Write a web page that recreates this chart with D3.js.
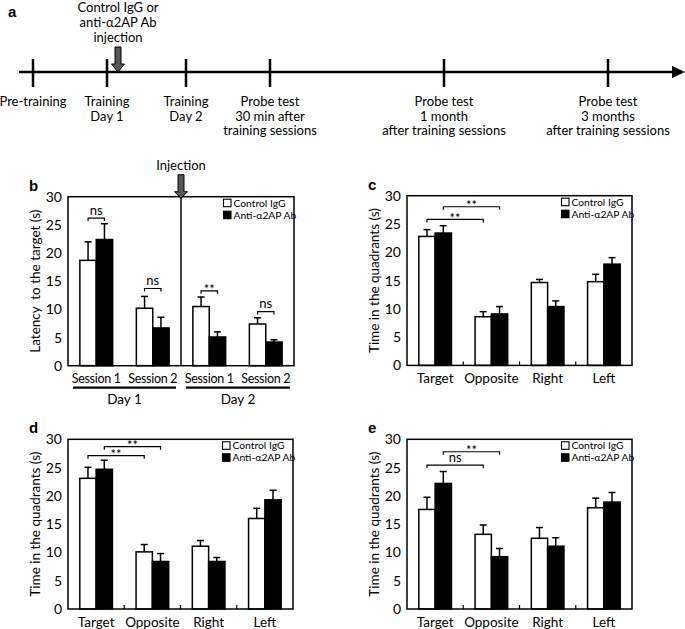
<!DOCTYPE html>
<html><head><meta charset="utf-8">
<script src="https://cdn.jsdelivr.net/npm/d3@7"></script>
<style>
body{margin:0;background:#fff}
svg{display:block}
text{font-family:Lato,"Open Sans",sans-serif;fill:#000}
</style>
</head><body>
<svg id="chart" width="685" height="629"></svg>
<script>
// ---------- data ----------
const timelineLabels = [["Pre-training"],["Training","Day 1"],["Training","Day 2"],
  ["Probe test","30 min after","training sessions"],
  ["Probe test","1 month","after training sessions"],
  ["Probe test","3 months","after training sessions"]];
const injectionLabel = ["Control IgG or","anti-α2AP Ab","injection"];
const seriesNames = ["Control IgG","Anti-α2AP Ab"];
const yTicks = [0,5,10,15,20,25,30];

const categoriesB = ["Session 1","Session 2","Session 1","Session 2"];
const daysB = ["Day 1","Day 2"];
const controlB = [18.7,10.2,10.5,7.4];
const controlErrB = [3.3,2.1,1.7,1.1];
const antiB = [22.4,6.7,5.1,4.2];
const antiErrB = [2.8,1.9,0.9,0.4];
const sigB = ["ns","ns","**","ns"];
const sigLevelB = [26.2,13.7,13.3,9.6];

const quadrants = ["Target","Opposite","Right","Left"];
const controlC = [22.8,8.6,14.65,14.8];
const controlErrC = [1.2,0.9,0.55,1.3];
const antiC = [23.4,9.1,10.4,17.9];
const antiErrC = [1.3,1.3,1.0,1.15];
const sigC = ["**","**"];
const sigLevelC = [25.8,28.05];

const controlD = [23.1,10.1,11.1,16.0];
const controlErrD = [1.95,1.3,1.0,1.8];
const antiD = [24.7,8.4,8.4,19.3];
const antiErrD = [1.6,1.4,0.7,1.7];
const sigD = ["**","**"];
const sigLevelD = [27.1,28.7];

const controlE = [17.6,13.2,12.5,17.9];
const controlErrE = [2.15,1.65,1.9,1.7];
const antiE = [22.2,9.25,11.1,18.9];
const antiErrE = [2.1,1.45,1.5,1.7];
const sigE = ["ns","**"];
const sigLevelE = [25.45,27.8];

// ---------- drawing ----------
const svg = d3.select("#chart");

// Panel a: timeline
(function(){
  const g = svg.append("g");
  const lineY = 72;
  const tickX = [33,107,186,270,444,608];
  g.append("text").attr("x",8).attr("y",17).text("a")
    .style("font-family","'Liberation Sans',Arial,sans-serif").style("font-weight","bold").style("font-size","15px");
  g.append("line").attr("x1",19).attr("x2",674).attr("y1",lineY).attr("y2",lineY)
    .attr("stroke","#000").attr("stroke-width",2.5);
  g.append("path").attr("d",`M672,${lineY-6}L685,${lineY}L672,${lineY+6}Z`).attr("fill","#000");
  tickX.forEach((tx,i)=>{
    g.append("line").attr("x1",tx).attr("x2",tx).attr("y1",lineY-13).attr("y2",lineY+15)
      .attr("stroke","#000").attr("stroke-width",2.5);
    timelineLabels[i].forEach((s,j)=>{
      g.append("text").attr("x",tx).attr("y",106+j*14.5).attr("text-anchor","middle")
        .style("font-size","13px").text(s);
    });
  });
  const ax = 118;
  injectionLabel.forEach((s,j)=>{
    g.append("text").attr("x",ax).attr("y",12+j*15).attr("text-anchor","middle")
      .style("font-size","13px").text(s);
  });
  g.append("path").attr("d",`M${ax-3},47L${ax+3},47L${ax+3},64L${ax+6.5},64L${ax},${lineY}L${ax-6.5},64L${ax-3},64Z`)
    .attr("fill","#555").attr("stroke","#000").attr("stroke-width",1);
})();

function panel(o){
  const g = svg.append("g");
  const y = d3.scaleLinear([0,30],[o.bottom,o.top]);
  const x = d3.scaleBand(d3.range(o.cats.length),[o.left,o.right]);
  const bw = x.bandwidth()*0.29;
  const cx = i => x(i)+x.bandwidth()/2;

  // y tick labels
  const ya = g.append("g").attr("transform",`translate(${o.left},0)`)
    .call(d3.axisLeft(y).tickValues(yTicks).tickSize(0).tickPadding(6));
  ya.select(".domain").remove();
  ya.selectAll("text").style("font-family","Lato,sans-serif").style("font-size","14px");

  // y title
  g.append("text").attr("transform",`translate(${o.left-33},${(o.top+o.bottom)/2}) rotate(-90)`)
    .attr("text-anchor","middle").attr("dy","0.35em").style("font-size","13.5px")
    .style("white-space","pre").text(o.title);

  // panel letter
  g.append("text").attr("x",o.left-39).attr("y",o.top-6).text(o.letter)
    .style("font-family","'Liberation Sans',Arial,sans-serif").style("font-weight","bold").style("font-size","15px");

  // category labels
  o.cats.forEach((c,i)=>{
    g.append("text").attr("x",cx(i)).attr("y",o.bottom+17.5).attr("text-anchor","middle")
      .style("font-size",o.catFont||"13.5px").style("letter-spacing",o.catSpacing||"0px").text(c);
  });
  if(o.catTicks){
    for(let i=1;i<o.cats.length;i++){
      g.append("line").attr("x1",x(i)).attr("x2",x(i)).attr("y1",o.bottom).attr("y2",o.bottom-4)
        .attr("stroke","#000").attr("stroke-width",1.2);
    }
  }

  // bars
  o.ctrl.forEach((v,i)=>{
    g.append("rect").attr("x",cx(i)-bw).attr("y",y(v)).attr("width",bw).attr("height",y(0)-y(v))
      .attr("fill","#fff").attr("stroke","#000").attr("stroke-width",1.5);
  });
  o.anti.forEach((v,i)=>{
    g.append("rect").attr("x",cx(i)).attr("y",y(v)).attr("width",bw).attr("height",y(0)-y(v))
      .attr("fill","#000").attr("stroke","#000").attr("stroke-width",1.5);
  });
  // error bars
  function err(vals,errs,off){
    vals.forEach((v,i)=>{
      const bx = cx(i)+off;
      g.append("line").attr("x1",bx).attr("x2",bx).attr("y1",y(v)).attr("y2",y(v+errs[i]))
        .attr("stroke","#000").attr("stroke-width",1.5);
      g.append("line").attr("x1",bx-3.5).attr("x2",bx+3.5).attr("y1",y(v+errs[i])).attr("y2",y(v+errs[i]))
        .attr("stroke","#000").attr("stroke-width",1.5);
    });
  }
  err(o.ctrl,o.ctrlErr,-bw/2);
  err(o.anti,o.antiErr,bw/2);

  // frame
  g.append("rect").attr("x",o.left).attr("y",o.top).attr("width",o.right-o.left).attr("height",o.bottom-o.top)
    .attr("fill","none").attr("stroke","#000").attr("stroke-width",1.5);

  // brackets
  o.brackets.forEach(b=>{
    const yl = y(b.level);
    g.append("path").attr("d",`M${b.x1},${yl+3}L${b.x1},${yl}L${b.x2},${yl}L${b.x2},${yl+3}`)
      .attr("fill","none").attr("stroke","#000").attr("stroke-width",1.2);
    g.append("text").attr("x",(b.x1+b.x2)/2).attr("y",b.label==="**"?yl+3.5:yl-3.5)
      .attr("text-anchor","middle").style("font-size","13px").text(b.label);
  });

  // legend
  seriesNames.forEach((s,i)=>{
    const ly = o.top+6.5+i*12;
    g.append("rect").attr("x",o.right-70.5).attr("y",ly-4).attr("width",7.5).attr("height",7.5)
      .attr("fill",i?"#000":"#fff").attr("stroke","#000").attr("stroke-width",1.1);
    g.append("text").attr("x",o.right-60.5).attr("y",ly).attr("dy","0.35em")
      .style("font-size","10.3px").text(s);
  });
  return {x,y,cx,bw,g};
}

// Panel b
const pb = panel({left:68,right:294,top:196.7,bottom:365.7,cats:categoriesB,
  ctrl:controlB,ctrlErr:controlErrB,anti:antiB,antiErr:antiErrB,
  title:"Latency  to the target (s)",letter:"b",catTicks:false,brackets:[],
  catFont:"12.5px",catSpacing:"-0.3px"});
(function(){
  const {x,y,cx,bw,g} = pb;
  sigB.forEach((s,i)=>{
    const yl = y(sigLevelB[i]), x1 = cx(i)-bw/2, x2 = cx(i)+bw/2;
    g.append("path").attr("d",`M${x1},${yl+3}L${x1},${yl}L${x2},${yl}L${x2},${yl+3}`)
      .attr("fill","none").attr("stroke","#000").attr("stroke-width",1.2);
    g.append("text").attr("x",cx(i)).attr("y",s==="**"?yl+3.5:yl-3.5)
      .attr("text-anchor","middle").style("font-size","13px").text(s);
  });
  const ix = x(2);
  g.append("line").attr("x1",ix).attr("x2",ix).attr("y1",y(30)).attr("y2",y(0))
    .attr("stroke","#000").attr("stroke-width",1.5);
  const t = y(30);
  g.append("path").attr("d",`M${ix-3},${t-22}L${ix+3},${t-22}L${ix+3},${t-5}L${ix+6.5},${t-5}L${ix},${t+1.5}L${ix-6.5},${t-5}L${ix-3},${t-5}Z`)
    .attr("fill","#555").attr("stroke","#000").attr("stroke-width",1);
  g.append("text").attr("x",ix).attr("y",t-27).attr("text-anchor","middle").style("font-size","13px").text("Injection");
  const b = y(0);
  const spans = [[x(0)+5,x(2)-5],[x(2)+5,x(3)+x.bandwidth()-4]];
  daysB.forEach((d,i)=>{
    g.append("line").attr("x1",spans[i][0]).attr("x2",spans[i][1]).attr("y1",b+22).attr("y2",b+22)
      .attr("stroke","#000").attr("stroke-width",2.2);
    g.append("text").attr("x",(spans[i][0]+spans[i][1])/2).attr("y",b+38.5).attr("text-anchor","middle")
      .style("font-size","13.5px").text(d);
  });
})();

function quadPanel(left,top,letter,ctrl,ctrlErr,anti,antiErr,sig,levels){
  const right = left+225, bottom = top+169.7;
  const x = d3.scaleBand(d3.range(4),[left,right]);
  const bw = x.bandwidth()*0.29;
  const cx = i => x(i)+x.bandwidth()/2;
  panel({left,right,top,bottom,cats:quadrants,ctrl,ctrlErr,anti,antiErr,
    title:"Time in the quadrants (s)",letter,catTicks:true,
    brackets:[
      {x1:cx(0)-bw/2,x2:cx(1)-bw/2,level:levels[0],label:sig[0]},
      {x1:cx(0)+bw/2,x2:cx(1)+bw/2,level:levels[1],label:sig[1]}
    ]});
}
quadPanel(407,195.7,"c",controlC,controlErrC,antiC,antiErrC,sigC,sigLevelC);
quadPanel(68,439.3,"d",controlD,controlErrD,antiD,antiErrD,sigD,sigLevelD);
quadPanel(407,439.3,"e",controlE,controlErrE,antiE,antiErrE,sigE,sigLevelE);
</script>
</body></html>
